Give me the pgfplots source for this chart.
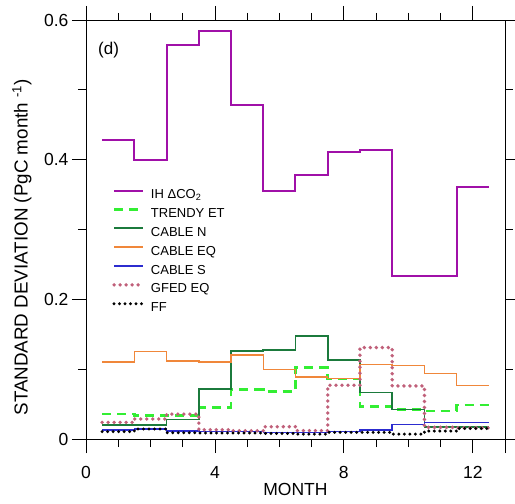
\documentclass[border=0pt]{standalone}
\usepackage{pgfplots}
\pgfplotsset{compat=1.18}
\usepackage{fontspec}
\setmainfont{Liberation Sans}

\definecolor{ihpurple}{HTML}{A010A8}
\definecolor{trendygreen}{HTML}{33EE33}
\definecolor{cablen}{HTML}{1B7A3C}
\definecolor{cableeq}{HTML}{F0873A}
\definecolor{cables}{HTML}{2C2CCF}
\definecolor{gfedpink}{HTML}{C0607A}

\pgfplotstableread{
x ih trendy cablen cableeq cables gfed ff
0.5  0.428 0.0357 0.0205 0.110 0.0129 0.0238 0.0105
1.5  0.400 0.0333 0.0205 0.125 0.0143 0.0286 0.0143
2.5  0.564 0.0333 0.0280 0.112 0.0114 0.0357 0.0090
3.5  0.584 0.0448 0.0714 0.110 0.0105 0.0133 0.0086
4.5  0.478 0.0705 0.1260 0.120 0.0105 0.0120 0.0086
5.5  0.355 0.0680 0.1270 0.0995 0.0095 0.0176 0.0080
6.5  0.378 0.1020 0.1476 0.0890 0.0095 0.0120 0.0070
7.5  0.411 0.0860 0.1130 0.0867 0.0105 0.0770 0.0095
8.5  0.414 0.0467 0.0667 0.1070 0.0130 0.1310 0.0095
9.5  0.233 0.0420 0.0424 0.1050 0.0210 0.0760 0.0070
10.5 0.233 0.0400 0.0176 0.0940 0.0233 0.0167 0.0114
11.5 0.361 0.0486 0.0176 0.0770 0.0233 0.0160 0.0150
12.5 0.361 0.0486 0.0176 0.0770 0.0233 0.0160 0.0150
}\datatable

\begin{document}
\begin{tikzpicture}
\begin{axis}[
  scale only axis, width=419pt, height=433pt,
  xmin=0, xmax=13, ymin=-0.02, ymax=0.6,
  axis x line=middle, axis y line=box,
  x axis line style={-}, y axis line style={-},
  axis line style={line width=0.8pt},
  hide obscured x ticks=false, hide obscured y ticks=false,
  xtick={0,4,8,12}, xticklabels={0,4,8,12},
  minor xtick={1,2,3,5,6,7,9,10,11},
  ytick={0,0.2,0.4,0.6}, yticklabels={0,0.2,0.4,0.6},
  minor ytick={0.1,0.3,0.5},
  tick align=outside,
  major tick length=14pt, minor tick length=8pt,
  every tick/.style={black, line width=0.8pt},
  /pgf/number format/assume math mode=true,
  tick label style={font=\fontsize{17.5}{17.5}\selectfont},
  xticklabel style={yshift=-10pt},
  xlabel={MONTH},
  every axis x label/.style={at={(rel axis cs:0.5,0)}, anchor=north, inner sep=0pt, yshift=-30pt, font=\fontsize{17.5}{17.5}\selectfont},
  ylabel={STANDARD DEVIATION (PgC month \textsuperscript{-1})},
  every axis y label/.style={at={(axis description cs:-0.1527,0.475)}, rotate=90, anchor=center, inner sep=0pt, font=\fontsize{18.8}{18.8}\selectfont},
  legend style={at={(rel axis cs:0.062,0.611)}, anchor=north west, draw=none, fill=none,
    font=\fontsize{13}{13}\selectfont, row sep=5.85pt, column sep=6pt, inner sep=0pt,
    nodes={inner sep=0pt, text height=10pt, text depth=3pt}},
  legend cell align=left,
  legend image code/.code={\draw[#1] (0pt,4.5pt) -- (29pt,4.5pt);},
  clip=false,
]
\addplot[const plot, ihpurple, line width=2pt] table[x=x, y=ih] {\datatable};
\addlegendentry{IH ΔCO\textsubscript{2}}
\addplot[const plot, trendygreen, line width=2.6pt, dash pattern=on 9pt off 6pt] table[x=x, y=trendy] {\datatable};
\addlegendentry{TRENDY ET}
\addplot[const plot, cablen, line width=1.7pt] table[x=x, y=cablen] {\datatable};
\addlegendentry{CABLE N}
\addplot[const plot, cableeq, line width=1.5pt] table[x=x, y=cableeq] {\datatable};
\addlegendentry{CABLE EQ}
\addplot[const plot, cables, line width=1.4pt] table[x=x, y=cables] {\datatable};
\addlegendentry{CABLE S}
\addplot[const plot, gfedpink, line width=3.8pt, line cap=round, dash pattern=on 0pt off 6pt] table[x=x, y=gfed] {\datatable};
\addlegendentry{GFED EQ}
\addplot[const plot, black, line width=3.3pt, line cap=round, dash pattern=on 0pt off 5.5pt] table[x=x, y=ff] {\datatable};
\addlegendentry{FF}
\node[anchor=center, font=\fontsize{17}{17}\selectfont] at (axis cs:0.70,0.557) {(d)};
\coordinate (sw) at (rel axis cs:0,0);
\end{axis}
\begin{axis}[
  scale only axis, width=419pt, height=433pt,
  xmin=0, xmax=13, ymin=-0.02, ymax=0.6,
  axis x line*=top, axis y line=none,
  x axis line style={-, line width=0.8pt},
  xtick={0,4,8,12}, xticklabels={},
  minor xtick={1,2,3,5,6,7,9,10,11},
  tick align=outside,
  major tick length=14pt, minor tick length=7pt,
  every tick/.style={black, line width=0.8pt},
]
\end{axis}
\pgfresetboundingbox
\path ([shift={(-86pt,-51pt)}]sw) rectangle ([shift={(429pt,453pt)}]sw);
\end{tikzpicture}
\end{document}
